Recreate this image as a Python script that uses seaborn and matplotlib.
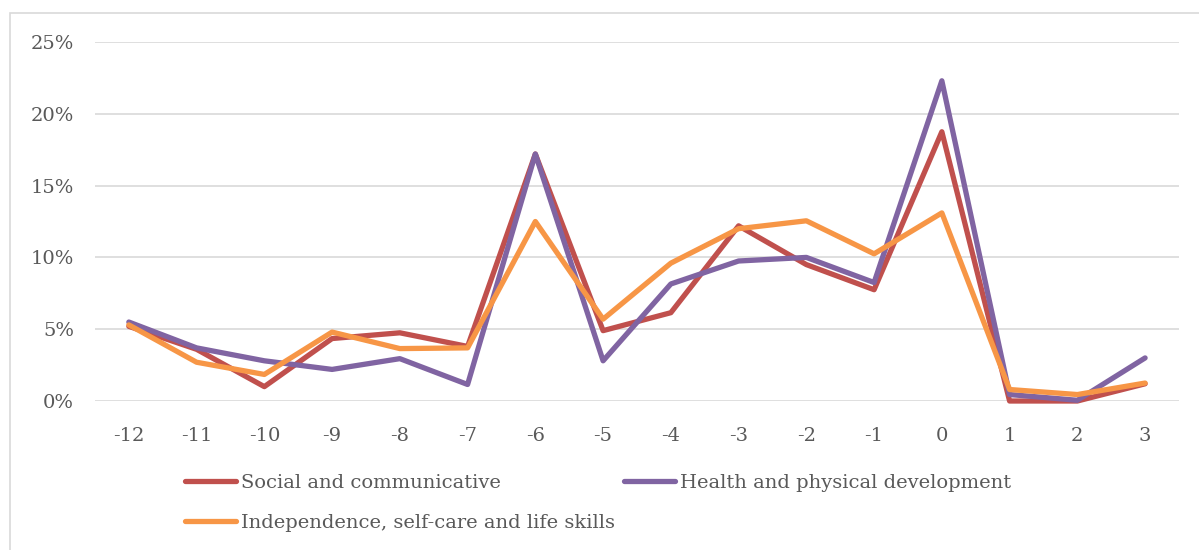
import pandas as pd
import seaborn as sns
import matplotlib.pyplot as plt
from matplotlib.ticker import PercentFormatter

# Data
months = ['-12', '-11', '-10', '-9', '-8', '-7', '-6', '-5', '-4', '-3', '-2', '-1', '0', '1', '2', '3']
social = [5.2, 3.6, 1.0, 4.35, 4.75, 3.8, 17.2, 4.9, 6.15, 12.2, 9.5, 7.75, 18.75, 0.0, 0.0, 1.2]
health = [5.5, 3.7, 2.8, 2.2, 2.95, 1.15, 17.2, 2.8, 8.15, 9.75, 10.0, 8.25, 22.3, 0.45, 0.05, 3.0]
independence = [5.3, 2.7, 1.85, 4.8, 3.65, 3.7, 12.5, 5.7, 9.6, 12.0, 12.55, 10.25, 13.1, 0.8, 0.45, 1.25]

names = ['Social and communicative', 'Health and physical development',
         'Independence, self-care and life skills']
colors = ['#C0504D', '#8064A2', '#F79646']

# Long format for seaborn
rows = []
for name, vals in zip(names, [social, health, independence]):
    for i, v in enumerate(vals):
        rows.append({'pos': i, 'value': v / 100, 'series': name})
df = pd.DataFrame(rows)

sns.set_style('white')
plt.rcParams['font.family'] = ['DejaVu Serif']

fig = plt.figure(figsize=(11.99, 5.5), dpi=100)
ax = fig.add_axes([0.0792, 0.2709, 0.9041, 0.6527])

sns.lineplot(data=df, x='pos', y='value', hue='series', hue_order=names,
             palette=colors, linewidth=3.8, ax=ax, legend=False,
             solid_capstyle='round', clip_on=False)

# Axes styling (Excel-like)
ax.set_xlim(-0.5, len(months) - 0.5)
ax.set_ylim(0, 0.25)
ax.set_yticks([0, 0.05, 0.10, 0.15, 0.20, 0.25])
ax.yaxis.set_major_formatter(PercentFormatter(1.0, decimals=0))
ax.set_xticks(range(len(months)))
ax.set_xticklabels(months)
ax.grid(axis='y', color='#D9D9D9', linewidth=1.2)
ax.grid(axis='x', visible=False)
for s in ax.spines.values():
    s.set_visible(False)
ax.tick_params(axis='both', length=0, labelsize=14, colors='#595959')
ax.tick_params(axis='y', pad=15)
ax.tick_params(axis='x', pad=19)
ax.set_xlabel('')
ax.set_ylabel('')

# Legend, row-wise order
handles = [plt.Line2D([], [], color=c, linewidth=3.8, solid_capstyle='round') for c in colors]
order = [0, 2, 1]
fig.legend([handles[i] for i in order], [names[i] for i in order],
           loc='upper left', bbox_to_anchor=(0.148, 0.152), ncol=2, frameon=False,
           fontsize=14, labelcolor='#595959', handlelength=2.6, handletextpad=0.25,
           columnspacing=0.5, labelspacing=1.1, borderaxespad=0)

# Chart border
fig.patches.append(plt.Rectangle((10 / 1199, -0.01), 1.0, 1 - 13 / 550 + 0.01,
                                 transform=fig.transFigure, fill=False,
                                 edgecolor='#D9D9D9', linewidth=1.2))

fig.savefig('out.png', dpi=100)
